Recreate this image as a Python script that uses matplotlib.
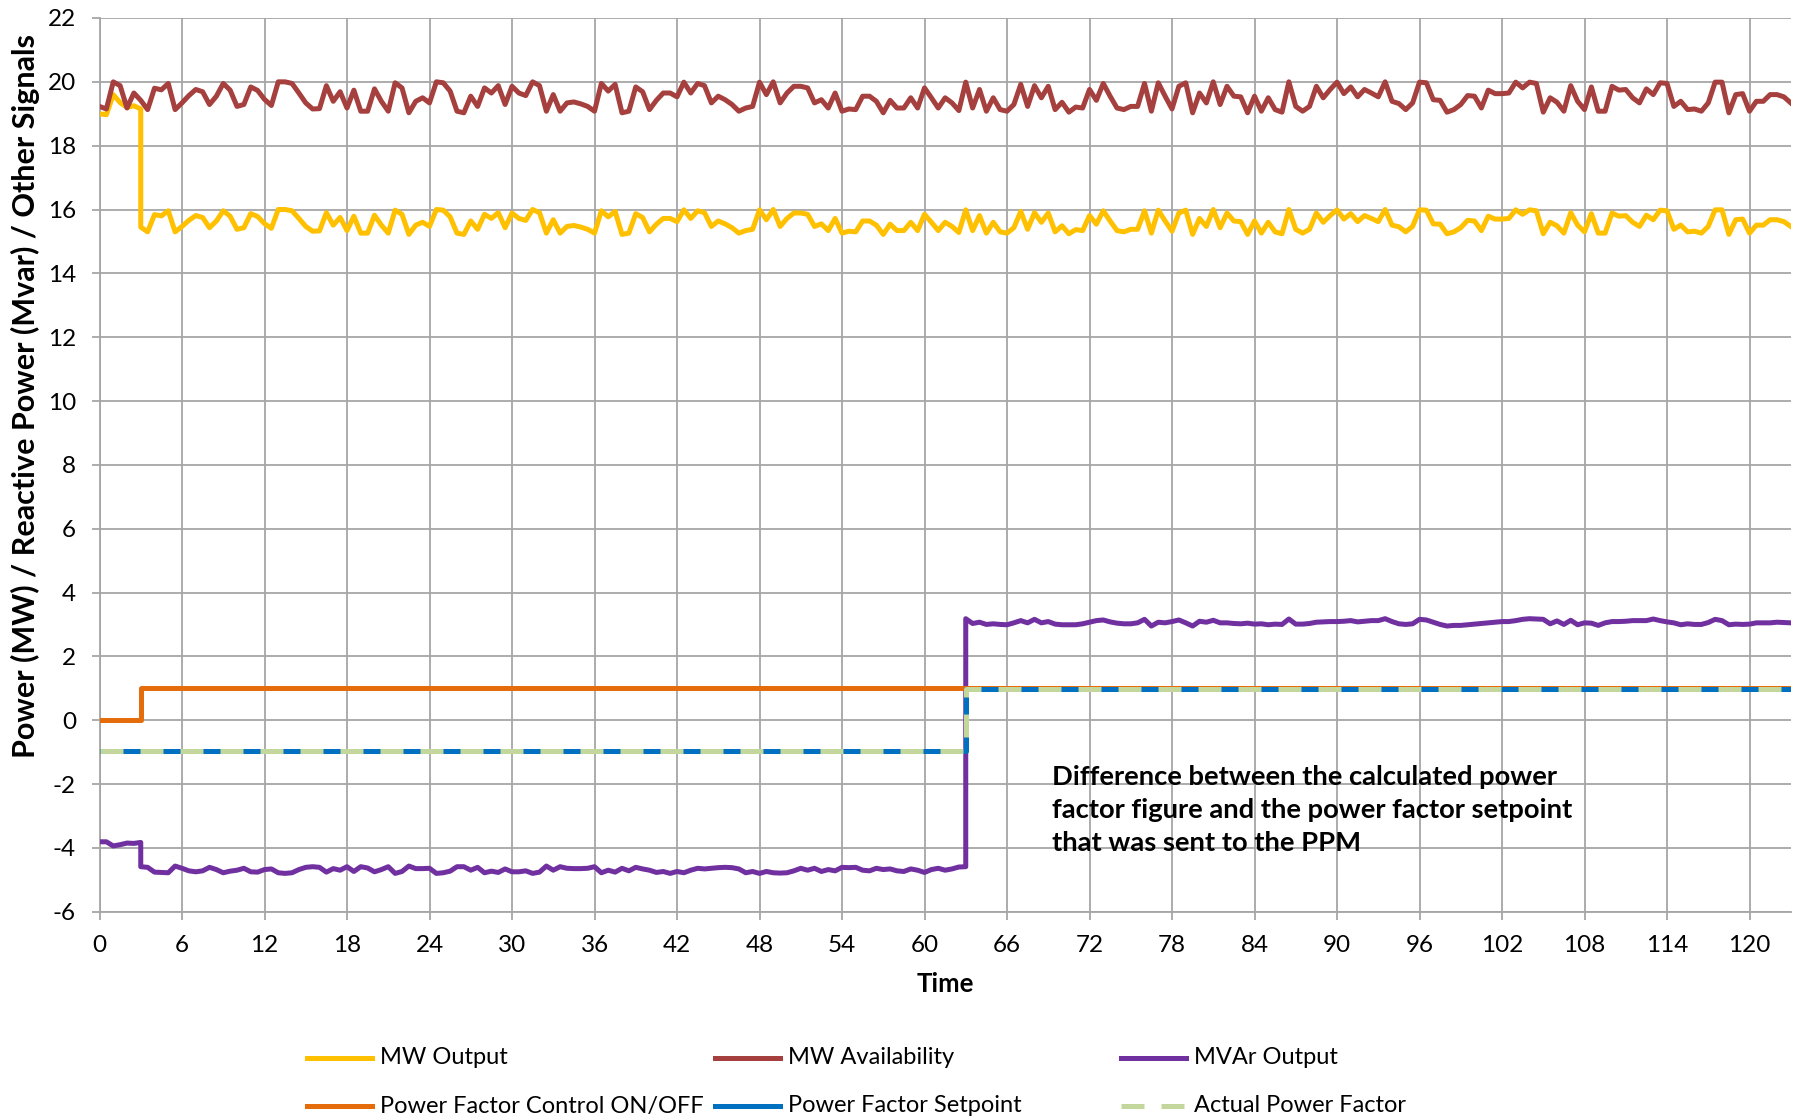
import numpy as np
import matplotlib
matplotlib.use("Agg")
import matplotlib.pyplot as plt
from matplotlib.lines import Line2D

plt.rcParams['font.family'] = ['Lato', 'DejaVu Sans']
plt.rcParams['axes.unicode_minus'] = False

# ---------------- data ----------------
step = 0.5
t_full = np.arange(0, 123.0 + 1e-9, step)          # 0 .. 123
t_pre = np.arange(0, 3.0 + 1e-9, step)             # 0 .. 3
t_mid = np.arange(3.0, 63.0 + 1e-9, step)          # 3 .. 63
t_post3 = np.arange(3.0, 123.0 + 1e-9, step)       # 3 .. 123
t_post63 = np.arange(63.0, 123.0 + 1e-9, step)     # 63 .. 123

mw_availability = [
    19.23, 19.15, 20.0, 19.88, 19.18, 19.65, 19.42, 19.13, 19.8, 19.75,
    19.95, 19.13, 19.34, 19.57, 19.76, 19.69, 19.29, 19.55, 19.95, 19.74,
    19.23, 19.29, 19.84, 19.73, 19.45, 19.26, 20.0, 20.0, 19.95, 19.65,
    19.34, 19.15, 19.16, 19.88, 19.39, 19.69, 19.18, 19.74, 19.08, 19.08,
    19.78, 19.39, 19.08, 19.97, 19.81, 19.03, 19.39, 19.5, 19.34, 20.0,
    19.97, 19.71, 19.08, 19.03, 19.55, 19.23, 19.81, 19.65, 19.88, 19.29,
    19.86, 19.65, 19.57, 20.0, 19.88, 19.08, 19.6, 19.08, 19.34, 19.37,
    19.31, 19.23, 19.08, 19.95, 19.71, 19.92, 19.03, 19.08, 19.84, 19.69,
    19.13, 19.42, 19.65, 19.65, 19.53, 19.99, 19.65, 19.95, 19.88, 19.34,
    19.55, 19.44, 19.29, 19.08, 19.18, 19.23, 19.99, 19.6, 20.0, 19.34,
    19.65, 19.86, 19.86, 19.81, 19.34, 19.44, 19.18, 19.65, 19.08, 19.15,
    19.13, 19.55, 19.55, 19.39, 19.03, 19.42, 19.18, 19.18, 19.5, 19.18,
    19.81, 19.5, 19.18, 19.5, 19.34, 19.1, 19.99, 19.18, 19.76, 19.08,
    19.5, 19.13, 19.08, 19.29, 19.92, 19.23, 19.88, 19.5, 19.86, 19.13,
    19.36, 19.05, 19.21, 19.18, 19.76, 19.42, 19.95, 19.55, 19.18, 19.13,
    19.23, 19.23, 19.95, 19.08, 19.97, 19.55, 19.15, 19.86, 19.97, 19.03,
    19.65, 19.34, 20.0, 19.29, 19.86, 19.55, 19.53, 19.03, 19.55, 19.08,
    19.5, 19.13, 19.05, 20.0, 19.23, 19.08, 19.23, 19.86, 19.5, 19.76,
    19.99, 19.63, 19.84, 19.53, 19.76, 19.65, 19.53, 20.0, 19.39, 19.32,
    19.13, 19.34, 19.99, 19.97, 19.44, 19.42, 19.05, 19.13, 19.29, 19.57,
    19.55, 19.18, 19.74, 19.63, 19.63, 19.65, 19.99, 19.81, 19.99, 19.95,
    19.05, 19.5, 19.36, 19.08, 19.88, 19.39, 19.13, 19.84, 19.08, 19.08,
    19.86, 19.74, 19.76, 19.5, 19.34, 19.78, 19.6, 19.97, 19.95, 19.23,
    19.39, 19.13, 19.15, 19.08, 19.34, 19.99, 19.99, 19.03, 19.6, 19.63,
    19.08, 19.39, 19.39, 19.6, 19.6, 19.53, 19.34,
]

mw_output_pre = [19.0, 18.97, 19.6, 19.35, 19.2, 19.25, 19.15]
mw_output_post = [
    15.45, 15.30, 15.84, 15.80,
    15.96, 15.30, 15.47, 15.66, 15.81, 15.75, 15.43, 15.64, 15.96, 15.79,
    15.38, 15.43, 15.87, 15.78, 15.56, 15.41, 16.0, 16.0, 15.96, 15.72,
    15.47, 15.32, 15.33, 15.90, 15.51, 15.75, 15.34, 15.79, 15.26, 15.26,
    15.82, 15.51, 15.26, 15.98, 15.85, 15.22, 15.51, 15.60, 15.47, 16.0,
    15.98, 15.77, 15.26, 15.22, 15.64, 15.38, 15.85, 15.72, 15.90, 15.43,
    15.89, 15.72, 15.66, 16.0, 15.90, 15.26, 15.68, 15.26, 15.47, 15.50,
    15.45, 15.38, 15.26, 15.96, 15.77, 15.94, 15.22, 15.26, 15.87, 15.75,
    15.30, 15.54, 15.72, 15.72, 15.62, 15.99, 15.72, 15.96, 15.90, 15.47,
    15.64, 15.55, 15.43, 15.26, 15.34, 15.38, 15.99, 15.68, 16.0, 15.47,
    15.72, 15.89, 15.89, 15.85, 15.47, 15.55, 15.34, 15.72, 15.26, 15.32,
    15.30, 15.64, 15.64, 15.51, 15.22, 15.54, 15.34, 15.34, 15.60, 15.34,
    15.85, 15.60, 15.34, 15.60, 15.47, 15.28, 15.99, 15.34, 15.81, 15.26,
    15.60, 15.30, 15.26, 15.43, 15.94, 15.38, 15.90, 15.60, 15.89, 15.30,
    15.49, 15.24, 15.37, 15.34, 15.81, 15.54, 15.96, 15.64, 15.34, 15.30,
    15.38, 15.38, 15.96, 15.26, 15.98, 15.64, 15.32, 15.89, 15.98, 15.22,
    15.72, 15.47, 16.0, 15.43, 15.89, 15.64, 15.62, 15.22, 15.64, 15.26,
    15.60, 15.30, 15.24, 16.0, 15.38, 15.26, 15.38, 15.89, 15.60, 15.81,
    15.99, 15.70, 15.87, 15.62, 15.81, 15.72, 15.62, 16.0, 15.51, 15.46,
    15.30, 15.47, 15.99, 15.98, 15.55, 15.54, 15.24, 15.30, 15.43, 15.66,
    15.64, 15.34, 15.79, 15.70, 15.70, 15.72, 15.99, 15.85, 15.99, 15.96,
    15.24, 15.60, 15.49, 15.26, 15.90, 15.51, 15.30, 15.87, 15.26, 15.26,
    15.89, 15.79, 15.81, 15.60, 15.47, 15.82, 15.68, 15.98, 15.96, 15.38,
    15.51, 15.30, 15.32, 15.26, 15.47, 15.99, 15.99, 15.22, 15.68, 15.70,
    15.26, 15.51, 15.51, 15.68, 15.68, 15.62, 15.47,
]

mvar_pre = [-3.81, -3.81, -3.94, -3.90, -3.85, -3.86, -3.83]
mvar_mid = [
    -4.59, -4.61, -4.76, -4.77,
    -4.78, -4.57, -4.64, -4.72, -4.75, -4.72, -4.61, -4.68, -4.78, -4.73,
    -4.70, -4.64, -4.75, -4.76, -4.68, -4.66, -4.78, -4.80, -4.78, -4.68,
    -4.61, -4.59, -4.61, -4.76, -4.65, -4.70, -4.59, -4.74, -4.59, -4.63,
    -4.75, -4.68, -4.59, -4.80, -4.74, -4.57, -4.65, -4.65, -4.64, -4.80,
    -4.78, -4.73, -4.59, -4.59, -4.70, -4.61, -4.78, -4.73, -4.77, -4.66,
    -4.75, -4.75, -4.72, -4.80, -4.76, -4.57, -4.70, -4.59, -4.64, -4.65,
    -4.65, -4.64, -4.59, -4.78, -4.70, -4.76, -4.64, -4.72, -4.61, -4.66,
    -4.70, -4.77, -4.74, -4.80, -4.74, -4.78, -4.70, -4.64, -4.66, -4.64,
    -4.62, -4.61, -4.62, -4.66, -4.78, -4.74, -4.80, -4.74, -4.78, -4.79,
    -4.78, -4.72, -4.64, -4.70, -4.64, -4.74, -4.68, -4.72, -4.61, -4.62,
    -4.61, -4.70, -4.72, -4.64, -4.68, -4.66, -4.72, -4.74, -4.66, -4.70,
    -4.77, -4.68, -4.64, -4.70, -4.66, -4.60, -4.59,
]
mvar_post = [
    3.18, 3.03, 3.07, 3.00,
    3.02, 3.00, 2.99, 3.05, 3.12, 3.05, 3.16, 3.05, 3.09, 3.01,
    2.99, 2.99, 2.99, 3.02, 3.07, 3.12, 3.14, 3.08, 3.04, 3.02,
    3.02, 3.05, 3.16, 2.95, 3.07, 3.05, 3.09, 3.14, 3.05, 2.95,
    3.10, 3.07, 3.13, 3.05, 3.05, 3.03, 3.02, 3.04, 3.01, 3.02,
    2.99, 3.01, 3.00, 3.17, 3.01, 3.01, 3.03, 3.07, 3.08, 3.09,
    3.09, 3.10, 3.12, 3.08, 3.10, 3.12, 3.12, 3.18, 3.09, 3.02,
    3.00, 3.02, 3.16, 3.14, 3.07, 3.00, 2.95, 2.97, 2.97, 2.99,
    3.01, 3.03, 3.05, 3.07, 3.09, 3.09, 3.12, 3.16, 3.18, 3.17,
    3.16, 3.02, 3.11, 3.00, 3.13, 2.99, 3.05, 3.04, 2.97, 3.05,
    3.09, 3.09, 3.10, 3.12, 3.12, 3.12, 3.17, 3.12, 3.08, 3.05,
    2.99, 3.02, 3.00, 3.00, 3.06, 3.16, 3.12, 2.99, 3.01, 3.00,
    3.01, 3.05, 3.05, 3.05, 3.07, 3.06, 3.05,
]

pf_ctrl_t = [0, 3, 3, 123]
pf_ctrl = [0, 0, 1, 1]
pf_set_t = [0, 63, 63, 123]
pf_setpoint = [-0.97, -0.97, 0.97, 0.97]
pf_actual = [-0.97, -0.97, 0.97, 0.97]

x_ticks = list(range(0, 121, 6))
y_ticks = list(range(-6, 23, 2))

# ---------------- figure ----------------
W, H = 1794, 1119
fig = plt.figure(figsize=(W / 100, H / 100), dpi=100)
ax = fig.add_axes([99.5 / W, 1 - 911.7 / H, (1790.75 - 99.5) / W, (911.7 - 18) / H])

c_yellow = '#FFC000'
c_red = '#A5403E'
c_purple = '#7030A0'
c_orange = '#E46C0A'
c_blue = '#0070C0'
c_green = '#C3D69B'
lw = 3.6

ax.plot(np.concatenate([t_pre, t_post3]), mw_output_pre + mw_output_post,
        color=c_yellow, lw=lw, solid_joinstyle='round', zorder=3)
ax.plot(t_full, mw_availability, color=c_red, lw=lw, solid_joinstyle='round', zorder=3)
ax.plot(np.concatenate([t_pre, t_mid, t_post63]), mvar_pre + mvar_mid + mvar_post,
        color=c_purple, lw=lw, solid_joinstyle='round', zorder=3)
ax.plot(pf_ctrl_t, pf_ctrl, color=c_orange, lw=lw, zorder=3)
ax.plot(pf_set_t, pf_setpoint, color=c_blue, lw=lw, zorder=3)
ax.plot(pf_set_t, pf_actual, color=c_green, lw=lw, dashes=(4.6, 3.4), zorder=3)

ax.set_xlim(0, 123)
ax.set_ylim(-6, 22)
ax.set_xticks(x_ticks)
ax.set_yticks(y_ticks)
ax.grid(True, color='#A6A6A6', lw=1.3)
ax.set_axisbelow(True)
for s in ['top', 'right']:
    ax.spines[s].set_visible(False)
for s in ['left', 'bottom']:
    ax.spines[s].set_color('#A6A6A6')
    ax.spines[s].set_linewidth(1.3)
ax.tick_params(axis='both', colors='#A6A6A6', labelcolor='black', labelsize=17.5,
               length=6, width=1.3, pad=11)

fig.text(25 / W, 1 - 396 / H, 'Power (MW) / Reactive Power (Mvar) / Other Signals',
         rotation=90, ha='center', va='center', fontsize=22, fontweight='bold')
fig.text(945 / W, 1 - 984 / H, 'Time', ha='center', va='center',
         fontsize=18.5, fontweight='bold')

ax.text(69.3, -1.4, 'Difference between the calculated power\nfactor figure and the power factor setpoint\nthat was sent to the PPM',
        ha='left', va='top', fontsize=19.7, fontweight='bold', linespacing=1.45)

# legend (manual, Excel-like equal columns)
items = [('MW Output', c_yellow, None), ('MW Availability', c_red, None),
         ('MVAr Output', c_purple, None), ('Power Factor Control ON/OFF', c_orange, None),
         ('Power Factor Setpoint', c_blue, None), ('Actual Power Factor', c_green, (4.6, 3.4))]
col_x = [307, 715, 1121]
row_y = [1058, 1106]
for i, (lab, col, dsh) in enumerate(items):
    cx = col_x[i % 3]
    ry = row_y[i // 3]
    kw = dict(color=col, lw=lw, transform=fig.transFigure)
    if dsh:
        kw['dashes'] = dsh
    fig.add_artist(Line2D([cx / W, (cx + 65) / W], [1 - ry / H, 1 - ry / H], **kw))
    fig.text((cx + 73) / W, 1 - ry / H, lab, ha='left', va='center', fontsize=17)

fig.savefig('out.png', dpi=100)
